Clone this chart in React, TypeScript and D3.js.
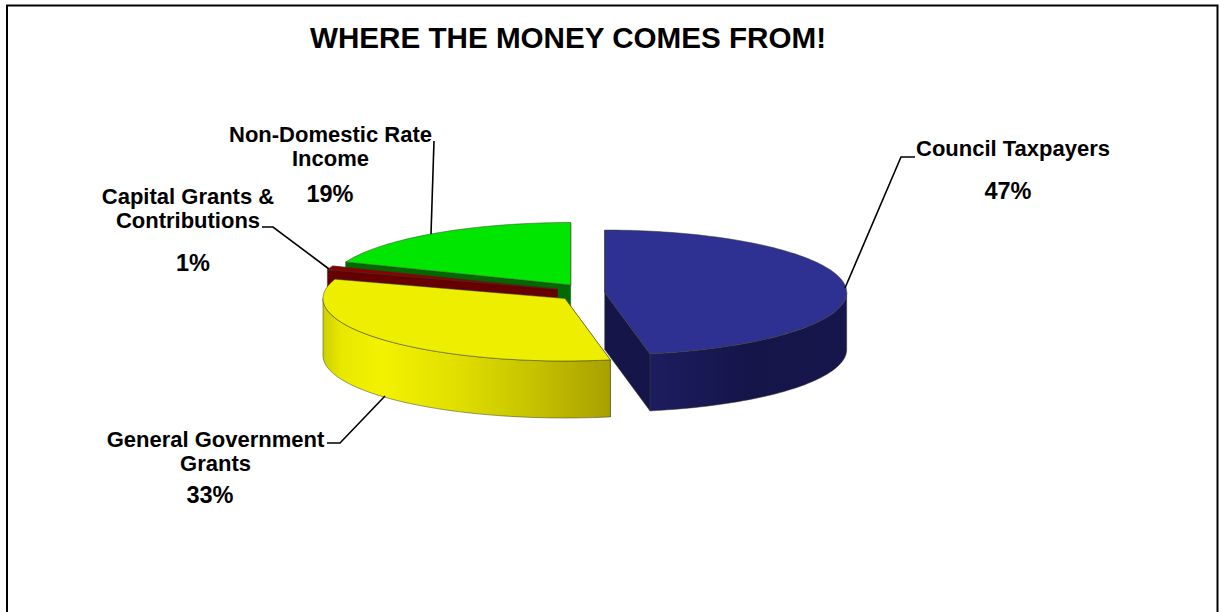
import React from "react";
import * as d3 from "d3";

const categories = ["Council Taxpayers", "General Government Grants", "Capital Grants & Contributions", "Non-Domestic Rate Income"];
const shares = [47, 33, 1, 19];
const titleText = "WHERE THE MONEY COMES FROM!";

const topColors = ["#2e3192", "#eeee00", "#8a0000", "#00e600"];
const wallColors = ["#15154a", "#b0a800", "#660000", "#006a00"];
const centers: [number, number][] = [[604.7, 292.5], [565, 298.5], [557.5, 289], [570.7, 285]];
const labelLines = [["Council Taxpayers"], ["General Government", "Grants"], ["Capital Grants &", "Contributions"], ["Non-Domestic Rate", "Income"]];
const labelAnchors: [number, number][] = [[1013, 150], [215.5, 441], [188, 198], [330.5, 136]];
const pctAnchors: [number, number][] = [[1008, 193], [210, 497], [193, 265], [330, 196]];
const leaders: [number, number][][] = [
  [[845, 288], [901, 157], [915, 157]],
  [[385, 396], [340, 443], [327, 443]],
  [[329, 269], [273, 227], [262, 227]],
  [[431, 234], [434, 141]],
];

const RX = 242, RY = 62.5, DEPTH = 57;
const W = 1221, H = 612;

const pie = d3.pie<number>().sort(null).startAngle(0).endAngle(2 * Math.PI);
const arcs = pie(shares);
const line = d3.line();

function proj(c: [number, number], a: number, dz = 0): [number, number] {
  const x = d3.scaleLinear().domain([-1, 1]).range([c[0] - RX, c[0] + RX]);
  const y = d3.scaleLinear().domain([-1, 1]).range([c[1] + RY + dz, c[1] - RY + dz]);
  return [x(Math.sin(a)), y(Math.cos(a))];
}
function arcPts(c: [number, number], a0: number, a1: number, dz = 0) {
  const n = Math.max(4, Math.ceil(Math.abs(a1 - a0) * 40));
  return d3.range(n + 1).map((i) => proj(c, a0 + ((a1 - a0) * i) / n, dz));
}
const shift = (p: [number, number]): [number, number] => [p[0], p[1] + DEPTH];

export default function App() {
  const edge = { stroke: "#3a3a20", strokeWidth: 0.7, strokeOpacity: 0.7 };
  const font = "'Liberation Sans', Arial, sans-serif";
  const slice = (i: number, gradient?: string) => {
    const c = centers[i];
    const a0 = arcs[i].startAngle, a1 = arcs[i].endAngle;
    const top = [c as [number, number], ...arcPts(c, a0, a1)];
    const from = Math.max(a0, Math.PI / 2), to = Math.min(a1, (3 * Math.PI) / 2);
    const outer = to > from ? [...arcPts(c, from, to), ...arcPts(c, to, from, DEPTH)] : null;
    const startPt = proj(c, a0), endPt = proj(c, a1);
    const cut = (p: [number, number]) => [c, p, shift(p), shift(c)] as [number, number][];
    return (
      <g key={i}>
        <path d={line(cut(endPt))!} fill={wallColors[i]} {...edge} />
        <path d={line(cut(startPt))!} fill={wallColors[i]} {...edge} />
        {outer && <path d={line(outer)! + "Z"} fill={gradient ?? wallColors[i]} {...edge} />}
        <path d={line(top)! + "Z"} fill={topColors[i]} {...edge} />
      </g>
    );
  };
  return (
    <svg width={W} height={H} style={{ position: "absolute", left: 0, top: 0 }}>
      <defs>
        <linearGradient id="yw" gradientUnits="userSpaceOnUse" x1={324} x2={610} y1={0} y2={0}>
          <stop offset="0" stopColor="#d0d000" />
          <stop offset="0.06" stopColor="#e8e800" />
          <stop offset="0.2" stopColor="#f2f200" />
          <stop offset="0.45" stopColor="#e2e000" />
          <stop offset="0.75" stopColor="#c4c000" />
          <stop offset="1" stopColor="#a8a000" />
        </linearGradient>
        <linearGradient id="bw" gradientUnits="userSpaceOnUse" x1={650} x2={848} y1={0} y2={0}>
          <stop offset="0" stopColor="#1c1c60" />
          <stop offset="0.5" stopColor="#15154a" />
          <stop offset="1" stopColor="#16164c" />
        </linearGradient>
      </defs>
      <rect width={W} height={H} fill="#fff" />
      <path d="M7,612V5.5H1217.5V612" fill="none" stroke="#000" strokeWidth={2} />
      <text x={568} y={48} textAnchor="middle" fontFamily={font} fontWeight="bold" fontSize={29} fill="#000" textLength={516} lengthAdjust="spacingAndGlyphs">{titleText}</text>
      {slice(3)}
      {slice(2)}
      {slice(1, "url(#yw)")}
      {slice(0, "url(#bw)")}
      {leaders.map((l, i) => (
        <path key={i} d={line(l)!} fill="none" stroke="#000" strokeWidth={1.6} />
      ))}
      {categories.map((cat, i) => (
        <g key={cat} fontFamily={font} fontWeight="bold" fontSize={22} fill="#000" textAnchor="middle">
          <text x={labelAnchors[i][0]} y={labelAnchors[i][1]} dominantBaseline="middle">
            {labelLines[i].map((t, j) => (
              <tspan key={j} x={labelAnchors[i][0]} dy={j === 0 ? 0 : 23.5}>{t}</tspan>
            ))}
          </text>
          <text x={pctAnchors[i][0]} y={pctAnchors[i][1]} dominantBaseline="middle" fontSize={23.5}>{shares[i]}%</text>
        </g>
      ))}
    </svg>
  );
}
